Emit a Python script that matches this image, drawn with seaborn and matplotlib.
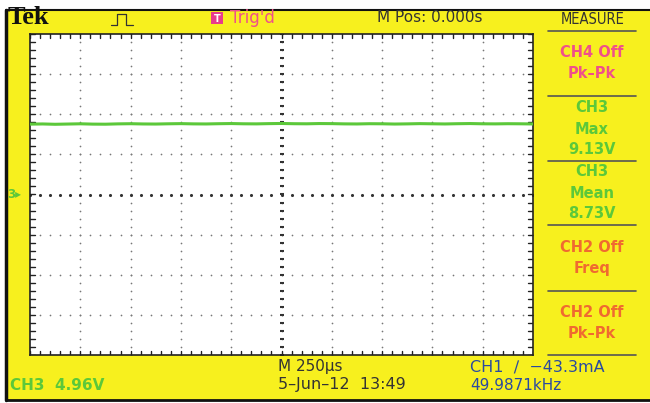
import numpy as np
import matplotlib
matplotlib.use("Agg")
import matplotlib.pyplot as plt
import seaborn as sns

sns.set_theme(style="white")
plt.rcParams['font.family'] = ['DejaVu Sans']

# CH3 trace, volts, sampled across 10 horizontal divisions
ch3_volts = [8.70, 8.72, 8.68, 8.71, 8.74, 8.70, 8.69, 8.73, 8.75, 8.72,
             8.71, 8.74, 8.76, 8.73, 8.72, 8.75, 8.77, 8.74, 8.73, 8.76,
             8.78, 8.75, 8.74, 8.77, 8.76, 8.73, 8.72, 8.75, 8.74, 8.71,
             8.73, 8.76, 8.74, 8.72, 8.75, 8.77, 8.74, 8.73, 8.75, 8.74,
             8.72]
ch3_volts_per_div = 4.96

measure_titles = ["CH4 Off\nPk\u2013Pk", "CH3\nMax\n9.13V", "CH3\nMean\n8.73V",
                  "CH2 Off\nFreq", "CH2 Off\nPk\u2013Pk"]
measure_colors = ["#f0508a", "#5cc83a", "#5cc83a", "#f06a30", "#f06a30"]

W, H = 650, 403
fig = plt.figure(figsize=(W / 100, H / 100), dpi=100)
fig.patch.set_facecolor("white")

YELLOW = "#f7f01e"
bg = fig.add_axes([0, 0, 1, 1])
bg.set_xlim(0, W)
bg.set_ylim(H, 0)
bg.axis("off")
bg.add_patch(plt.Rectangle((6, 10), W - 6, 390, facecolor=YELLOW, edgecolor="none"))
bg.plot([6, 6], [10, 400], color="#111", lw=2.5)
bg.plot([6, W], [10, 10], color="#111", lw=1.5)
bg.plot([6, W], [400, 400], color="#111", lw=2)

# measurement panel separators
for y in [31, 96, 161, 225, 291, 355]:
    bg.plot([548, 636], [y, y], color="#555", lw=1.2)

bg.text(593, 20, "MEASURE", ha="center", va="center", fontsize=10.5, color="#333",
        fontstretch="condensed")
centers = [63, 129, 193, 258, 323]
for c, t, col in zip(centers, measure_titles, measure_colors):
    bg.text(592, c, t, ha="center", va="center", fontsize=10.5, color=col,
            fontweight="bold", linespacing=1.5)

bg.text(8, 18, "Tek", ha="left", va="center", fontsize=19, fontweight="bold",
        family=["Liberation Serif", "DejaVu Serif"], color="#111")
bg.plot([111, 117, 117, 126, 126, 133], [25, 25, 14, 14, 25, 25], color="#333", lw=0.9)
bg.add_patch(plt.Rectangle((211, 12), 12, 12, facecolor="#e83c8c", edgecolor="none"))
bg.text(217, 18.5, "T", ha="center", va="center", fontsize=7, color="white", fontweight="bold")
bg.text(230, 18, "Trig'd", ha="left", va="center", fontsize=12, color="#f0508a")
bg.text(430, 18, "M Pos: 0.000s", ha="center", va="center", fontsize=11, color="#333")

bg.text(10, 385, "CH3  4.96V", ha="left", va="center", fontsize=11, color="#5cc83a", fontweight="bold")
bg.text(278, 367, "M 250\u00b5s", ha="left", va="center", fontsize=11, color="#333")
bg.text(278, 385, "5\u2013Jun\u201312  13:49", ha="left", va="center", fontsize=11.5, color="#333")
bg.text(470, 367, "CH1  \u2215  \u221243.3mA", ha="left", va="center", fontsize=11.5, color="#2a4aa0")
bg.text(470, 385, "49.9871kHz", ha="left", va="center", fontsize=11, color="#2a4aa0")
bg.text(7, 195, "3\u25b8", ha="left", va="center", fontsize=8.5, color="#5cc83a", fontweight="bold")
bg.text(282, 38, "\u25bc", ha="center", va="center", fontsize=8, color="#111")

# screen area
x0, x1, y0, y1 = 30, 533, 34, 355
ax = fig.add_axes([x0 / W, 1 - y1 / H, (x1 - x0) / W, (y1 - y0) / H])
ax.set_facecolor("white")
ax.set_xlim(-5, 5)
ax.set_ylim(-4, 4)
ax.set_xticks([])
ax.set_yticks([])
for s in ax.spines.values():
    s.set_color("#222")
    s.set_linewidth(1.2)

# dotted graticule
dot_x = np.arange(-5, 5.01, 0.2)
dot_y = np.arange(-4, 4.01, 0.2)
for gy in range(-3, 4):
    ax.scatter(dot_x, np.full_like(dot_x, gy), s=1.5, color="#777", lw=0, zorder=1)
for gx in range(-4, 5):
    ax.scatter(np.full_like(dot_y, gx), dot_y, s=1.5, color="#777", lw=0, zorder=1)
ax.scatter(dot_x, np.zeros_like(dot_x), s=5, color="#333", lw=0, zorder=1)
ax.scatter(np.zeros_like(dot_y), dot_y, s=5, color="#333", marker="_", zorder=1)
# edge tick marks
for xv in dot_x:
    ax.plot([xv, xv], [4, 3.9], color="#222", lw=1)
    ax.plot([xv, xv], [-4, -3.9], color="#222", lw=1)
for yv in dot_y:
    ax.plot([-5, -4.9], [yv, yv], color="#222", lw=1)
    ax.plot([5, 4.9], [yv, yv], color="#222", lw=1)

t = np.linspace(-5, 5, len(ch3_volts))
div = np.array(ch3_volts) / ch3_volts_per_div
sns.lineplot(x=t, y=div, ax=ax, color="#5cc83a", lw=2.2, zorder=3)

fig.savefig("out.png", dpi=100)
